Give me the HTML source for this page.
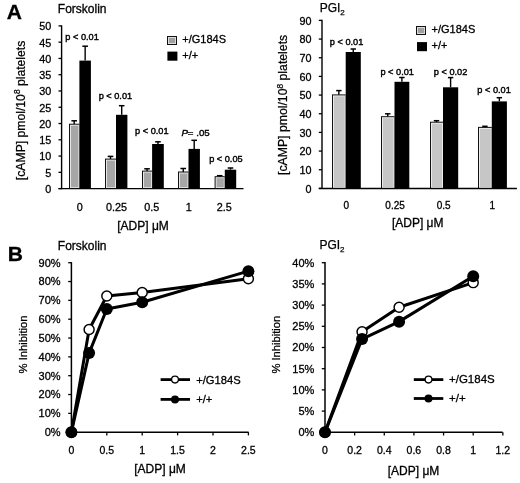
<!DOCTYPE html>
<html><head><meta charset="utf-8"><style>
html,body{margin:0;padding:0;background:#fff;width:520px;height:483px;overflow:hidden}
svg{display:block}
text{font-family:"Liberation Sans", sans-serif;fill:#000;stroke:#000}
svg{will-change:transform}
</style></head><body>
<svg width="520" height="483" viewBox="0 0 520 483">
<rect width="520" height="483" fill="#fff"/>
<line x1="61.6" y1="25.299999999999997" x2="61.6" y2="189.2" stroke="#000" stroke-width="1.4"/>
<line x1="58.5" y1="188.6" x2="243.5" y2="188.6" stroke="#000" stroke-width="1.45"/>
<line x1="58.5" y1="188.6" x2="61.6" y2="188.6" stroke="#000" stroke-width="1.3"/>
<text x="51.2" y="193.0" font-size="10.8" text-anchor="end" font-weight="normal"  stroke-width="0.3" >0</text>
<line x1="58.5" y1="172.32999999999998" x2="61.6" y2="172.32999999999998" stroke="#000" stroke-width="1.3"/>
<text x="51.2" y="176.73" font-size="10.8" text-anchor="end" font-weight="normal"  stroke-width="0.3" >5</text>
<line x1="58.5" y1="156.06" x2="61.6" y2="156.06" stroke="#000" stroke-width="1.3"/>
<text x="51.2" y="160.46" font-size="10.8" text-anchor="end" font-weight="normal"  stroke-width="0.3" >10</text>
<line x1="58.5" y1="139.79" x2="61.6" y2="139.79" stroke="#000" stroke-width="1.3"/>
<text x="51.2" y="144.19" font-size="10.8" text-anchor="end" font-weight="normal"  stroke-width="0.3" >15</text>
<line x1="58.5" y1="123.52000000000001" x2="61.6" y2="123.52000000000001" stroke="#000" stroke-width="1.3"/>
<text x="51.2" y="127.92000000000002" font-size="10.8" text-anchor="end" font-weight="normal"  stroke-width="0.3" >20</text>
<line x1="58.5" y1="107.25" x2="61.6" y2="107.25" stroke="#000" stroke-width="1.3"/>
<text x="51.2" y="111.65" font-size="10.8" text-anchor="end" font-weight="normal"  stroke-width="0.3" >25</text>
<line x1="58.5" y1="90.98" x2="61.6" y2="90.98" stroke="#000" stroke-width="1.3"/>
<text x="51.2" y="95.38000000000001" font-size="10.8" text-anchor="end" font-weight="normal"  stroke-width="0.3" >30</text>
<line x1="58.5" y1="74.71000000000001" x2="61.6" y2="74.71000000000001" stroke="#000" stroke-width="1.3"/>
<text x="51.2" y="79.11000000000001" font-size="10.8" text-anchor="end" font-weight="normal"  stroke-width="0.3" >35</text>
<line x1="58.5" y1="58.440000000000026" x2="61.6" y2="58.440000000000026" stroke="#000" stroke-width="1.3"/>
<text x="51.2" y="62.840000000000025" font-size="10.8" text-anchor="end" font-weight="normal"  stroke-width="0.3" >40</text>
<line x1="58.5" y1="42.170000000000016" x2="61.6" y2="42.170000000000016" stroke="#000" stroke-width="1.3"/>
<text x="51.2" y="46.570000000000014" font-size="10.8" text-anchor="end" font-weight="normal"  stroke-width="0.3" >45</text>
<line x1="58.5" y1="25.900000000000006" x2="61.6" y2="25.900000000000006" stroke="#000" stroke-width="1.3"/>
<text x="51.2" y="30.300000000000004" font-size="10.8" text-anchor="end" font-weight="normal"  stroke-width="0.3" >50</text>
<rect x="69" y="123.69999999999999" width="10.400000000000006" height="64.9" fill="#111"/>
<rect x="70" y="124.69999999999999" width="9.400000000000006" height="63.300000000000004" fill="#e6e6e6"/>
<rect x="71" y="125.69999999999999" width="7.400000000000006" height="61.50000000000001" fill="#a6a6a6"/>
<rect x="79.4" y="60.6" width="11.5" height="128.0" fill="#000"/>
<line x1="74.2" y1="124.1" x2="74.2" y2="120.8" stroke="#000" stroke-width="1.4"/>
<line x1="71.4" y1="120.8" x2="77.0" y2="120.8" stroke="#000" stroke-width="1.5"/>
<line x1="85.15" y1="60.6" x2="85.15" y2="46.2" stroke="#000" stroke-width="1.4"/>
<line x1="82.35000000000001" y1="46.2" x2="87.95" y2="46.2" stroke="#000" stroke-width="1.5"/>
<rect x="105" y="158.6" width="11.0" height="30.0" fill="#111"/>
<rect x="106" y="159.6" width="10.0" height="28.4" fill="#e6e6e6"/>
<rect x="107" y="160.6" width="8.0" height="26.6" fill="#a6a6a6"/>
<rect x="116.0" y="114.8" width="11.400000000000006" height="73.8" fill="#000"/>
<line x1="110.5" y1="159" x2="110.5" y2="156.4" stroke="#000" stroke-width="1.4"/>
<line x1="107.7" y1="156.4" x2="113.3" y2="156.4" stroke="#000" stroke-width="1.5"/>
<line x1="121.7" y1="114.8" x2="121.7" y2="105.7" stroke="#000" stroke-width="1.4"/>
<line x1="118.9" y1="105.7" x2="124.5" y2="105.7" stroke="#000" stroke-width="1.5"/>
<rect x="142" y="170.6" width="10.099999999999994" height="18.0" fill="#111"/>
<rect x="143" y="171.6" width="9.099999999999994" height="16.4" fill="#e6e6e6"/>
<rect x="144" y="172.6" width="7.099999999999994" height="14.6" fill="#a6a6a6"/>
<rect x="152.1" y="144.0" width="11.700000000000017" height="44.599999999999994" fill="#000"/>
<line x1="147.05" y1="171" x2="147.05" y2="168.8" stroke="#000" stroke-width="1.4"/>
<line x1="144.25" y1="168.8" x2="149.85000000000002" y2="168.8" stroke="#000" stroke-width="1.5"/>
<line x1="157.95" y1="144.0" x2="157.95" y2="141.8" stroke="#000" stroke-width="1.4"/>
<line x1="155.14999999999998" y1="141.8" x2="160.75" y2="141.8" stroke="#000" stroke-width="1.5"/>
<rect x="178" y="171.5" width="10.5" height="17.099999999999994" fill="#111"/>
<rect x="179" y="172.5" width="9.5" height="15.499999999999995" fill="#e6e6e6"/>
<rect x="180" y="173.5" width="7.5" height="13.699999999999994" fill="#a6a6a6"/>
<rect x="188.5" y="148.9" width="11.400000000000006" height="39.69999999999999" fill="#000"/>
<line x1="183.25" y1="171.9" x2="183.25" y2="168.5" stroke="#000" stroke-width="1.4"/>
<line x1="180.45" y1="168.5" x2="186.05" y2="168.5" stroke="#000" stroke-width="1.5"/>
<line x1="194.2" y1="148.9" x2="194.2" y2="140.3" stroke="#000" stroke-width="1.4"/>
<line x1="191.39999999999998" y1="140.3" x2="197.0" y2="140.3" stroke="#000" stroke-width="1.5"/>
<rect x="214.6" y="176.2" width="10.200000000000017" height="12.400000000000006" fill="#111"/>
<rect x="215.6" y="177.2" width="9.200000000000017" height="10.800000000000006" fill="#e6e6e6"/>
<rect x="216.6" y="178.2" width="7.200000000000017" height="9.000000000000005" fill="#a6a6a6"/>
<rect x="224.8" y="169.7" width="11.399999999999977" height="18.900000000000006" fill="#000"/>
<line x1="219.7" y1="176.6" x2="219.7" y2="175.7" stroke="#000" stroke-width="1.4"/>
<line x1="216.89999999999998" y1="175.7" x2="222.5" y2="175.7" stroke="#000" stroke-width="1.5"/>
<line x1="230.5" y1="169.7" x2="230.5" y2="168" stroke="#000" stroke-width="1.4"/>
<line x1="227.7" y1="168" x2="233.3" y2="168" stroke="#000" stroke-width="1.5"/>
<text x="79.8" y="210.9" font-size="10.8" text-anchor="middle" font-weight="normal"  stroke-width="0.3" >0</text>
<text x="116.6" y="210.9" font-size="10.8" text-anchor="middle" font-weight="normal"  stroke-width="0.3" >0.25</text>
<text x="151.8" y="210.9" font-size="10.8" text-anchor="middle" font-weight="normal"  stroke-width="0.3" >0.5</text>
<text x="188.7" y="210.9" font-size="10.8" text-anchor="middle" font-weight="normal"  stroke-width="0.3" >1</text>
<text x="224.2" y="210.9" font-size="10.8" text-anchor="middle" font-weight="normal"  stroke-width="0.3" >2.5</text>
<text x="143" y="229.8" font-size="12" text-anchor="middle" font-weight="normal"  stroke-width="0.3" >[ADP] μM</text>
<text x="82.1" y="40.4" font-size="9.2" text-anchor="middle" font-weight="normal" stroke-width="0.4" >p &lt; 0.01</text>
<text x="115.4" y="99.4" font-size="9.2" text-anchor="middle" font-weight="normal" stroke-width="0.4" >p &lt; 0.01</text>
<text x="151.8" y="133.7" font-size="9.2" text-anchor="middle" font-weight="normal" stroke-width="0.4" >p &lt; 0.01</text>
<text x="181.4" y="136.2" font-size="9.7" text-anchor="start" stroke-width="0.4"><tspan font-style="italic">P</tspan>= .05</text>
<text x="225.9" y="161.7" font-size="9.2" text-anchor="middle" font-weight="normal" stroke-width="0.4" >p &lt; 0.05</text>
<text x="57.8" y="12.8" font-size="12" text-anchor="start" font-weight="normal"  stroke-width="0.3" >Forskolin</text>
<text x="6.7" y="18.8" font-size="21" text-anchor="start" font-weight="bold"  stroke-width="0.3" >A</text>
<text transform="translate(24.5,110.4) rotate(-90)" font-size="12.2" text-anchor="middle" stroke-width="0.25">[cAMP] pmol/10<tspan font-size="8.4" dy="-4.6">8</tspan><tspan dy="4.6"> platelets</tspan></text>
<rect x="167" y="36" width="10" height="9" fill="#111"/>
<rect x="168" y="37" width="8" height="7" fill="#dcdcdc"/>
<rect x="169" y="38" width="6" height="5" fill="#a0a0a0"/>
<rect x="167.4" y="51.6" width="10" height="9.1" fill="#000"/>
<text x="182.3" y="42.9" font-size="11" text-anchor="start" font-weight="normal"  stroke-width="0.3" >+/G184S</text>
<text x="182.3" y="59.2" font-size="11" text-anchor="start" font-weight="normal"  stroke-width="0.3" >+/+</text>
<line x1="322.0" y1="19.799999999999997" x2="322.0" y2="189.0" stroke="#000" stroke-width="1.4"/>
<line x1="318.8" y1="188.4" x2="516.9" y2="188.4" stroke="#000" stroke-width="1.45"/>
<line x1="318.8" y1="188.4" x2="322.0" y2="188.4" stroke="#000" stroke-width="1.3"/>
<text x="311.5" y="192.8" font-size="10.8" text-anchor="end" font-weight="normal"  stroke-width="0.3" >0</text>
<line x1="318.8" y1="169.73333333333335" x2="322.0" y2="169.73333333333335" stroke="#000" stroke-width="1.3"/>
<text x="311.5" y="174.13333333333335" font-size="10.8" text-anchor="end" font-weight="normal"  stroke-width="0.3" >10</text>
<line x1="318.8" y1="151.06666666666666" x2="322.0" y2="151.06666666666666" stroke="#000" stroke-width="1.3"/>
<text x="311.5" y="155.46666666666667" font-size="10.8" text-anchor="end" font-weight="normal"  stroke-width="0.3" >20</text>
<line x1="318.8" y1="132.4" x2="322.0" y2="132.4" stroke="#000" stroke-width="1.3"/>
<text x="311.5" y="136.8" font-size="10.8" text-anchor="end" font-weight="normal"  stroke-width="0.3" >30</text>
<line x1="318.8" y1="113.73333333333333" x2="322.0" y2="113.73333333333333" stroke="#000" stroke-width="1.3"/>
<text x="311.5" y="118.13333333333334" font-size="10.8" text-anchor="end" font-weight="normal"  stroke-width="0.3" >40</text>
<line x1="318.8" y1="95.06666666666668" x2="322.0" y2="95.06666666666668" stroke="#000" stroke-width="1.3"/>
<text x="311.5" y="99.46666666666668" font-size="10.8" text-anchor="end" font-weight="normal"  stroke-width="0.3" >50</text>
<line x1="318.8" y1="76.4" x2="322.0" y2="76.4" stroke="#000" stroke-width="1.3"/>
<text x="311.5" y="80.80000000000001" font-size="10.8" text-anchor="end" font-weight="normal"  stroke-width="0.3" >60</text>
<line x1="318.8" y1="57.73333333333335" x2="322.0" y2="57.73333333333335" stroke="#000" stroke-width="1.3"/>
<text x="311.5" y="62.13333333333335" font-size="10.8" text-anchor="end" font-weight="normal"  stroke-width="0.3" >70</text>
<line x1="318.8" y1="39.06666666666666" x2="322.0" y2="39.06666666666666" stroke="#000" stroke-width="1.3"/>
<text x="311.5" y="43.46666666666666" font-size="10.8" text-anchor="end" font-weight="normal"  stroke-width="0.3" >80</text>
<line x1="318.8" y1="20.400000000000006" x2="322.0" y2="20.400000000000006" stroke="#000" stroke-width="1.3"/>
<text x="311.5" y="24.800000000000004" font-size="10.8" text-anchor="end" font-weight="normal"  stroke-width="0.3" >90</text>
<rect x="332" y="94.39999999999999" width="13.699999999999989" height="94.00000000000001" fill="#111"/>
<rect x="333" y="95.39999999999999" width="12.699999999999989" height="92.40000000000002" fill="#ececec"/>
<rect x="334" y="96.39999999999999" width="10.699999999999989" height="90.60000000000001" fill="#c6c6c6"/>
<rect x="345.7" y="52" width="15.100000000000023" height="136.4" fill="#000"/>
<line x1="338.85" y1="94.8" x2="338.85" y2="90.6" stroke="#000" stroke-width="1.4"/>
<line x1="336.15000000000003" y1="90.6" x2="341.55" y2="90.6" stroke="#000" stroke-width="1.5"/>
<line x1="353.25" y1="52" x2="353.25" y2="49" stroke="#000" stroke-width="1.4"/>
<line x1="350.55" y1="49" x2="355.95" y2="49" stroke="#000" stroke-width="1.5"/>
<rect x="381" y="116.19999999999999" width="13.5" height="72.20000000000002" fill="#111"/>
<rect x="382" y="117.19999999999999" width="12.5" height="70.60000000000002" fill="#ececec"/>
<rect x="383" y="118.19999999999999" width="10.5" height="68.80000000000001" fill="#c6c6c6"/>
<rect x="394.5" y="81.8" width="14.800000000000011" height="106.60000000000001" fill="#000"/>
<line x1="387.75" y1="116.6" x2="387.75" y2="113.8" stroke="#000" stroke-width="1.4"/>
<line x1="385.05" y1="113.8" x2="390.45" y2="113.8" stroke="#000" stroke-width="1.5"/>
<line x1="401.9" y1="81.8" x2="401.9" y2="77.5" stroke="#000" stroke-width="1.4"/>
<line x1="399.2" y1="77.5" x2="404.59999999999997" y2="77.5" stroke="#000" stroke-width="1.5"/>
<rect x="430" y="121.69999999999999" width="13.0" height="66.70000000000002" fill="#111"/>
<rect x="431" y="122.69999999999999" width="12.0" height="65.10000000000002" fill="#ececec"/>
<rect x="432" y="123.69999999999999" width="10.0" height="63.30000000000002" fill="#c6c6c6"/>
<rect x="443.0" y="87.3" width="15.199999999999989" height="101.10000000000001" fill="#000"/>
<line x1="436.5" y1="122.1" x2="436.5" y2="120.7" stroke="#000" stroke-width="1.4"/>
<line x1="433.8" y1="120.7" x2="439.2" y2="120.7" stroke="#000" stroke-width="1.5"/>
<line x1="450.6" y1="87.3" x2="450.6" y2="77.6" stroke="#000" stroke-width="1.4"/>
<line x1="447.90000000000003" y1="77.6" x2="453.3" y2="77.6" stroke="#000" stroke-width="1.5"/>
<rect x="478" y="126.89999999999999" width="13.800000000000011" height="61.500000000000014" fill="#111"/>
<rect x="479" y="127.89999999999999" width="12.800000000000011" height="59.90000000000001" fill="#ececec"/>
<rect x="480" y="128.89999999999998" width="10.800000000000011" height="58.100000000000016" fill="#c6c6c6"/>
<rect x="491.8" y="101.4" width="15.099999999999966" height="87.0" fill="#000"/>
<line x1="484.9" y1="127.3" x2="484.9" y2="126.3" stroke="#000" stroke-width="1.4"/>
<line x1="482.2" y1="126.3" x2="487.59999999999997" y2="126.3" stroke="#000" stroke-width="1.5"/>
<line x1="499.35" y1="101.4" x2="499.35" y2="97.7" stroke="#000" stroke-width="1.4"/>
<line x1="496.65000000000003" y1="97.7" x2="502.05" y2="97.7" stroke="#000" stroke-width="1.5"/>
<text x="346.3" y="209.2" font-size="10" text-anchor="middle" font-weight="normal"  stroke-width="0.3" >0</text>
<text x="395.1" y="209.2" font-size="10" text-anchor="middle" font-weight="normal"  stroke-width="0.3" >0.25</text>
<text x="443.6" y="209.2" font-size="10" text-anchor="middle" font-weight="normal"  stroke-width="0.3" >0.5</text>
<text x="492.4" y="209.2" font-size="10" text-anchor="middle" font-weight="normal"  stroke-width="0.3" >1</text>
<text x="417.7" y="226.7" font-size="12" text-anchor="middle" font-weight="normal"  stroke-width="0.3" >[ADP] μM</text>
<text x="346.6" y="44.7" font-size="9.2" text-anchor="middle" font-weight="normal" stroke-width="0.4" >p &lt; 0.01</text>
<text x="397.2" y="74.8" font-size="9.2" text-anchor="middle" font-weight="normal" stroke-width="0.4" >p &lt; 0.01</text>
<text x="450.6" y="75.2" font-size="9.2" text-anchor="middle" font-weight="normal" stroke-width="0.4" >p &lt; 0.02</text>
<text x="494.1" y="92.9" font-size="9.2" text-anchor="middle" font-weight="normal" stroke-width="0.4" >p &lt; 0.01</text>
<text x="319.7" y="12.3" font-size="12" stroke-width="0.25">PGI<tspan font-size="8" dy="3">2</tspan></text>
<text transform="translate(287.4,104.9) rotate(-90)" font-size="12.25" text-anchor="middle" stroke-width="0.25">[cAMP] pmol/10<tspan font-size="8.4" dy="-4.6">8</tspan><tspan dy="4.6"> platelets</tspan></text>
<rect x="416" y="26" width="10" height="9" fill="#111"/>
<rect x="417" y="27" width="8" height="7" fill="#dcdcdc"/>
<rect x="418" y="28" width="6" height="5" fill="#a0a0a0"/>
<rect x="417.0" y="42.1" width="10" height="9.1" fill="#000"/>
<text x="431.5" y="32.6" font-size="11" text-anchor="start" font-weight="normal"  stroke-width="0.3" >+/G184S</text>
<text x="431.5" y="49.2" font-size="11" text-anchor="start" font-weight="normal"  stroke-width="0.3" >+/+</text>
<line x1="71.4" y1="262.09999999999997" x2="71.4" y2="432.2" stroke="#000" stroke-width="1.5"/>
<line x1="71.4" y1="432.2" x2="248.6" y2="432.2" stroke="#000" stroke-width="1.5"/>
<line x1="68.2" y1="432.2" x2="71.4" y2="432.2" stroke="#000" stroke-width="1.3"/>
<text x="60.6" y="436.0" font-size="11" text-anchor="end" font-weight="normal"  stroke-width="0.3" >0%</text>
<line x1="68.2" y1="413.3666666666667" x2="71.4" y2="413.3666666666667" stroke="#000" stroke-width="1.3"/>
<text x="60.6" y="417.1666666666667" font-size="11" text-anchor="end" font-weight="normal"  stroke-width="0.3" >10%</text>
<line x1="68.2" y1="394.5333333333333" x2="71.4" y2="394.5333333333333" stroke="#000" stroke-width="1.3"/>
<text x="60.6" y="398.3333333333333" font-size="11" text-anchor="end" font-weight="normal"  stroke-width="0.3" >20%</text>
<line x1="68.2" y1="375.7" x2="71.4" y2="375.7" stroke="#000" stroke-width="1.3"/>
<text x="60.6" y="379.5" font-size="11" text-anchor="end" font-weight="normal"  stroke-width="0.3" >30%</text>
<line x1="68.2" y1="356.8666666666667" x2="71.4" y2="356.8666666666667" stroke="#000" stroke-width="1.3"/>
<text x="60.6" y="360.6666666666667" font-size="11" text-anchor="end" font-weight="normal"  stroke-width="0.3" >40%</text>
<line x1="68.2" y1="338.0333333333333" x2="71.4" y2="338.0333333333333" stroke="#000" stroke-width="1.3"/>
<text x="60.6" y="341.8333333333333" font-size="11" text-anchor="end" font-weight="normal"  stroke-width="0.3" >50%</text>
<line x1="68.2" y1="319.2" x2="71.4" y2="319.2" stroke="#000" stroke-width="1.3"/>
<text x="60.6" y="323.0" font-size="11" text-anchor="end" font-weight="normal"  stroke-width="0.3" >60%</text>
<line x1="68.2" y1="300.3666666666667" x2="71.4" y2="300.3666666666667" stroke="#000" stroke-width="1.3"/>
<text x="60.6" y="304.1666666666667" font-size="11" text-anchor="end" font-weight="normal"  stroke-width="0.3" >70%</text>
<line x1="68.2" y1="281.5333333333333" x2="71.4" y2="281.5333333333333" stroke="#000" stroke-width="1.3"/>
<text x="60.6" y="285.3333333333333" font-size="11" text-anchor="end" font-weight="normal"  stroke-width="0.3" >80%</text>
<line x1="68.2" y1="262.7" x2="71.4" y2="262.7" stroke="#000" stroke-width="1.3"/>
<text x="60.6" y="266.5" font-size="11" text-anchor="end" font-weight="normal"  stroke-width="0.3" >90%</text>
<line x1="71.4" y1="432.2" x2="71.4" y2="435.4" stroke="#000" stroke-width="1.3"/>
<text x="71.4" y="454.0" font-size="10.5" text-anchor="middle" font-weight="normal"  stroke-width="0.3" >0</text>
<line x1="106.80000000000001" y1="432.2" x2="106.80000000000001" y2="435.4" stroke="#000" stroke-width="1.3"/>
<text x="106.8" y="454.0" font-size="10.5" text-anchor="middle" font-weight="normal"  stroke-width="0.3" >0.5</text>
<line x1="142.2" y1="432.2" x2="142.2" y2="435.4" stroke="#000" stroke-width="1.3"/>
<text x="142.2" y="454.0" font-size="10.5" text-anchor="middle" font-weight="normal"  stroke-width="0.3" >1</text>
<line x1="177.6" y1="432.2" x2="177.6" y2="435.4" stroke="#000" stroke-width="1.3"/>
<text x="177.6" y="454.0" font-size="10.5" text-anchor="middle" font-weight="normal"  stroke-width="0.3" >1.5</text>
<line x1="213.0" y1="432.2" x2="213.0" y2="435.4" stroke="#000" stroke-width="1.3"/>
<text x="213.0" y="454.0" font-size="10.5" text-anchor="middle" font-weight="normal"  stroke-width="0.3" >2</text>
<line x1="248.4" y1="432.2" x2="248.4" y2="435.4" stroke="#000" stroke-width="1.3"/>
<text x="248.4" y="454.0" font-size="10.5" text-anchor="middle" font-weight="normal"  stroke-width="0.3" >2.5</text>
<text x="160" y="472.8" font-size="12" text-anchor="middle" font-weight="normal"  stroke-width="0.3" >[ADP] μM</text>
<polyline fill="none" stroke="#000" stroke-width="3.0" stroke-linejoin="round" points="71.40,432.20 89.10,329.56 106.80,296.03 142.20,292.46 248.40,278.71"/>
<polyline fill="none" stroke="#000" stroke-width="3.0" stroke-linejoin="round" points="71.40,432.20 89.10,353.10 106.80,309.03 142.20,302.25 248.40,271.17"/>
<circle cx="71.40" cy="432.20" r="5.0" fill="#fff" stroke="#000" stroke-width="1.45"/>
<circle cx="89.10" cy="329.56" r="5.0" fill="#fff" stroke="#000" stroke-width="1.45"/>
<circle cx="106.80" cy="296.03" r="5.0" fill="#fff" stroke="#000" stroke-width="1.45"/>
<circle cx="142.20" cy="292.46" r="5.0" fill="#fff" stroke="#000" stroke-width="1.45"/>
<circle cx="248.40" cy="278.71" r="5.0" fill="#fff" stroke="#000" stroke-width="1.45"/>
<circle cx="71.40" cy="432.20" r="6.0" fill="#000"/>
<circle cx="89.10" cy="353.10" r="6.0" fill="#000"/>
<circle cx="106.80" cy="309.03" r="6.0" fill="#000"/>
<circle cx="142.20" cy="302.25" r="6.0" fill="#000"/>
<circle cx="248.40" cy="271.17" r="6.0" fill="#000"/>
<text x="57.8" y="249.5" font-size="12" text-anchor="start" font-weight="normal"  stroke-width="0.3" >Forskolin</text>
<text x="7.7" y="260.6" font-size="21" text-anchor="start" font-weight="bold"  stroke-width="0.3" >B</text>
<text transform="translate(26.7,344.5) rotate(-90)" font-size="11.2" text-anchor="middle" stroke-width="0.25">% Inhibition</text>
<line x1="160.6" y1="379.6" x2="190" y2="379.6" stroke="#000" stroke-width="2.8"/>
<circle cx="175" cy="379.6" r="3.4" fill="#fff" stroke="#000" stroke-width="1.3"/>
<line x1="160.6" y1="399.4" x2="190" y2="399.4" stroke="#000" stroke-width="2.8"/>
<circle cx="175" cy="399.4" r="4" fill="#000"/>
<text x="196.2" y="383.5" font-size="11.2" text-anchor="start" font-weight="normal"  stroke-width="0.3" >+/G184S</text>
<text x="196.2" y="402.9" font-size="11.2" text-anchor="start" font-weight="normal"  stroke-width="0.3" >+/+</text>
<line x1="325.0" y1="262.09999999999997" x2="325.0" y2="432.3" stroke="#000" stroke-width="1.5"/>
<line x1="325.0" y1="432.3" x2="502.6" y2="432.3" stroke="#000" stroke-width="1.5"/>
<line x1="321.8" y1="432.3" x2="325.0" y2="432.3" stroke="#000" stroke-width="1.3"/>
<text x="314.4" y="436.1" font-size="11" text-anchor="end" font-weight="normal"  stroke-width="0.3" >0%</text>
<line x1="321.8" y1="411.1" x2="325.0" y2="411.1" stroke="#000" stroke-width="1.3"/>
<text x="314.4" y="414.90000000000003" font-size="11" text-anchor="end" font-weight="normal"  stroke-width="0.3" >5%</text>
<line x1="321.8" y1="389.9" x2="325.0" y2="389.9" stroke="#000" stroke-width="1.3"/>
<text x="314.4" y="393.7" font-size="11" text-anchor="end" font-weight="normal"  stroke-width="0.3" >10%</text>
<line x1="321.8" y1="368.7" x2="325.0" y2="368.7" stroke="#000" stroke-width="1.3"/>
<text x="314.4" y="372.5" font-size="11" text-anchor="end" font-weight="normal"  stroke-width="0.3" >15%</text>
<line x1="321.8" y1="347.5" x2="325.0" y2="347.5" stroke="#000" stroke-width="1.3"/>
<text x="314.4" y="351.3" font-size="11" text-anchor="end" font-weight="normal"  stroke-width="0.3" >20%</text>
<line x1="321.8" y1="326.3" x2="325.0" y2="326.3" stroke="#000" stroke-width="1.3"/>
<text x="314.4" y="330.1" font-size="11" text-anchor="end" font-weight="normal"  stroke-width="0.3" >25%</text>
<line x1="321.8" y1="305.1" x2="325.0" y2="305.1" stroke="#000" stroke-width="1.3"/>
<text x="314.4" y="308.90000000000003" font-size="11" text-anchor="end" font-weight="normal"  stroke-width="0.3" >30%</text>
<line x1="321.8" y1="283.9" x2="325.0" y2="283.9" stroke="#000" stroke-width="1.3"/>
<text x="314.4" y="287.7" font-size="11" text-anchor="end" font-weight="normal"  stroke-width="0.3" >35%</text>
<line x1="321.8" y1="262.7" x2="325.0" y2="262.7" stroke="#000" stroke-width="1.3"/>
<text x="314.4" y="266.5" font-size="11" text-anchor="end" font-weight="normal"  stroke-width="0.3" >40%</text>
<line x1="325.0" y1="432.3" x2="325.0" y2="435.5" stroke="#000" stroke-width="1.3"/>
<text x="325.0" y="454.0" font-size="10.5" text-anchor="middle" font-weight="normal"  stroke-width="0.3" >0</text>
<line x1="354.64" y1="432.3" x2="354.64" y2="435.5" stroke="#000" stroke-width="1.3"/>
<text x="354.64" y="454.0" font-size="10.5" text-anchor="middle" font-weight="normal"  stroke-width="0.3" >0.2</text>
<line x1="384.28" y1="432.3" x2="384.28" y2="435.5" stroke="#000" stroke-width="1.3"/>
<text x="384.28" y="454.0" font-size="10.5" text-anchor="middle" font-weight="normal"  stroke-width="0.3" >0.4</text>
<line x1="413.92" y1="432.3" x2="413.92" y2="435.5" stroke="#000" stroke-width="1.3"/>
<text x="413.92" y="454.0" font-size="10.5" text-anchor="middle" font-weight="normal"  stroke-width="0.3" >0.6</text>
<line x1="443.56" y1="432.3" x2="443.56" y2="435.5" stroke="#000" stroke-width="1.3"/>
<text x="443.56" y="454.0" font-size="10.5" text-anchor="middle" font-weight="normal"  stroke-width="0.3" >0.8</text>
<line x1="473.2" y1="432.3" x2="473.2" y2="435.5" stroke="#000" stroke-width="1.3"/>
<text x="473.2" y="454.0" font-size="10.5" text-anchor="middle" font-weight="normal"  stroke-width="0.3" >1</text>
<line x1="502.84000000000003" y1="432.3" x2="502.84000000000003" y2="435.5" stroke="#000" stroke-width="1.3"/>
<text x="502.84" y="454.0" font-size="10.5" text-anchor="middle" font-weight="normal"  stroke-width="0.3" >1.2</text>
<text x="413.5" y="474.6" font-size="12" text-anchor="middle" font-weight="normal"  stroke-width="0.3" >[ADP] μM</text>
<polyline fill="none" stroke="#000" stroke-width="3.0" stroke-linejoin="round" points="325.00,432.30 362.05,331.81 399.10,307.22 473.20,282.63"/>
<polyline fill="none" stroke="#000" stroke-width="3.0" stroke-linejoin="round" points="325.00,432.30 362.05,339.02 399.10,321.64 473.20,276.27"/>
<circle cx="325.00" cy="432.30" r="5.0" fill="#fff" stroke="#000" stroke-width="1.45"/>
<circle cx="362.05" cy="331.81" r="5.0" fill="#fff" stroke="#000" stroke-width="1.45"/>
<circle cx="399.10" cy="307.22" r="5.0" fill="#fff" stroke="#000" stroke-width="1.45"/>
<circle cx="473.20" cy="282.63" r="5.0" fill="#fff" stroke="#000" stroke-width="1.45"/>
<circle cx="325.00" cy="432.30" r="6.0" fill="#000"/>
<circle cx="362.05" cy="339.02" r="6.0" fill="#000"/>
<circle cx="399.10" cy="321.64" r="6.0" fill="#000"/>
<circle cx="473.20" cy="276.27" r="6.0" fill="#000"/>
<text x="319.4" y="249.3" font-size="12" stroke-width="0.25">PGI<tspan font-size="8" dy="3">2</tspan></text>
<text transform="translate(280.4,344.7) rotate(-90)" font-size="11.2" text-anchor="middle" stroke-width="0.25">% Inhibition</text>
<line x1="413.8" y1="379.6" x2="443.3" y2="379.6" stroke="#000" stroke-width="2.8"/>
<circle cx="428.5" cy="379.6" r="3.4" fill="#fff" stroke="#000" stroke-width="1.3"/>
<line x1="413.8" y1="398.5" x2="443.3" y2="398.5" stroke="#000" stroke-width="2.8"/>
<circle cx="428.5" cy="398.5" r="4" fill="#000"/>
<text x="449" y="383.1" font-size="11.5" text-anchor="start" font-weight="normal"  stroke-width="0.3" >+/G184S</text>
<text x="449" y="402.0" font-size="11.5" text-anchor="start" font-weight="normal"  stroke-width="0.3" >+/+</text>
</svg></body></html>
